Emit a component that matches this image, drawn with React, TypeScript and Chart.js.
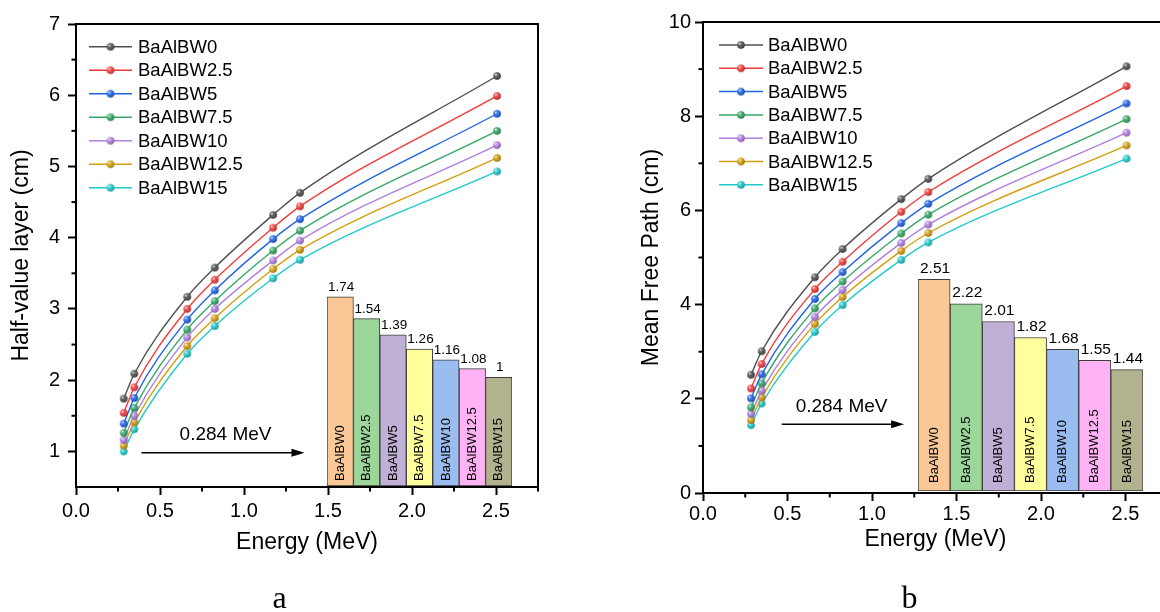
import React, { useEffect, useRef } from 'react';
import { Chart, registerables } from 'chart.js';

Chart.register(...registerables);

// ---------- data ----------
const ENERGY = [0.284, 0.347, 0.662, 0.826, 1.173, 1.333, 2.506];
const SAMPLES = ['BaAlBW0', 'BaAlBW2.5', 'BaAlBW5', 'BaAlBW7.5', 'BaAlBW10', 'BaAlBW12.5', 'BaAlBW15'];

// Half-value layer (cm)
const HVL_W0 = [1.74, 2.09, 3.17, 3.58, 4.32, 4.63, 6.27];
const HVL_W2_5 = [1.54, 1.9, 3.0, 3.41, 4.14, 4.44, 5.99];
const HVL_W5 = [1.39, 1.75, 2.85, 3.26, 3.98, 4.26, 5.74];
const HVL_W7_5 = [1.26, 1.61, 2.71, 3.11, 3.82, 4.1, 5.5];
const HVL_W10 = [1.16, 1.5, 2.6, 3.0, 3.68, 3.96, 5.3];
const HVL_W12_5 = [1.08, 1.41, 2.48, 2.87, 3.56, 3.83, 5.12];
const HVL_W15 = [1.0, 1.31, 2.37, 2.76, 3.43, 3.69, 4.93];

// Mean free path (cm)
const MFP_W0 = [2.51, 3.01, 4.58, 5.18, 6.24, 6.67, 9.06];
const MFP_W2_5 = [2.22, 2.74, 4.33, 4.91, 5.97, 6.39, 8.64];
const MFP_W5 = [2.01, 2.52, 4.12, 4.69, 5.73, 6.14, 8.27];
const MFP_W7_5 = [1.82, 2.33, 3.92, 4.49, 5.51, 5.91, 7.94];
const MFP_W10 = [1.68, 2.17, 3.74, 4.31, 5.31, 5.7, 7.65];
const MFP_W12_5 = [1.55, 2.03, 3.59, 4.16, 5.14, 5.52, 7.38];
const MFP_W15 = [1.44, 1.9, 3.42, 3.99, 4.95, 5.32, 7.1];

// inset values at 0.284 MeV
const INSET_HVL = [1.74, 1.54, 1.39, 1.26, 1.16, 1.08, 1];
const INSET_MFP = [2.51, 2.22, 2.01, 1.82, 1.68, 1.55, 1.44];

// ---------- styles ----------
const LINE_COLORS = ['#505050', '#F23B3B', '#1F63E6', '#35A865', '#B27EE0', '#D49E0E', '#1ECACA'];
const BAR_COLORS = ['#F9C896', '#9DD69B', '#C1B0D6', '#FFFF9C', '#9ABCEF', '#FFB3F5', '#B2B28F'];
const SANS = '"Liberation Sans", Arial, sans-serif';
const SERIF = '"Liberation Serif", "Times New Roman", serif';

function sphere(color: string, r: number): HTMLCanvasElement {
  const s = Math.ceil(r * 2) + 2;
  const c = document.createElement('canvas');
  c.width = s;
  c.height = s;
  const ctx = c.getContext('2d')!;
  const cx = s / 2;
  ctx.beginPath();
  ctx.arc(cx, cx, r, 0, Math.PI * 2);
  ctx.fillStyle = color;
  ctx.fill();
  const g = ctx.createRadialGradient(cx - r * 0.35, cx - r * 0.4, 0, cx - r * 0.2, cx - r * 0.2, r * 1.1);
  g.addColorStop(0, 'rgba(255,255,255,0.85)');
  g.addColorStop(0.45, 'rgba(255,255,255,0.1)');
  g.addColorStop(1, 'rgba(0,0,0,0.25)');
  ctx.beginPath();
  ctx.arc(cx, cx, r, 0, Math.PI * 2);
  ctx.fillStyle = g;
  ctx.fill();
  return c;
}

const framePlugin = {
  id: 'frame',
  afterDraw(chart: any) {
    const { ctx, chartArea: a } = chart;
    ctx.save();
    ctx.strokeStyle = '#000';
    ctx.lineWidth = 2;
    ctx.strokeRect(a.left, a.top, a.right - a.left, a.bottom - a.top);
    ctx.restore();
  },
};

const minorTickPlugin = {
  id: 'minorTicks',
  afterDraw(chart: any, _args: any, opts: any) {
    const { ctx, chartArea: a, scales } = chart;
    ctx.save();
    ctx.strokeStyle = '#000';
    ctx.lineWidth = 2;
    const xs = scales.x;
    for (let v = xs.min + opts.xStep; v < xs.max + 1e-9; v += opts.xStep * 2) {
      const px = xs.getPixelForValue(v);
      ctx.beginPath();
      ctx.moveTo(px, a.bottom);
      ctx.lineTo(px, a.bottom + opts.len);
      ctx.stroke();
    }
    const ys = scales.y;
    for (let v = opts.yStart; v < ys.max + 1e-9; v += opts.yStep * 2) {
      const py = ys.getPixelForValue(v);
      ctx.beginPath();
      ctx.moveTo(a.left, py);
      ctx.lineTo(a.left - opts.len, py);
      ctx.stroke();
    }
    ctx.restore();
  },
};

const legendPlugin = {
  id: 'boxLegend',
  afterDatasetsDraw(chart: any, _args: any, opts: any) {
    const { ctx, chartArea: a } = chart;
    ctx.save();
    chart.data.datasets.forEach((ds: any, i: number) => {
      const y = a.top + opts.top + i * opts.dy;
      const x0 = a.left + opts.lineStart;
      const x1 = a.left + opts.lineEnd;
      ctx.strokeStyle = ds.borderColor;
      ctx.lineWidth = 1.5;
      ctx.beginPath();
      ctx.moveTo(x0, y);
      ctx.lineTo(x1, y);
      ctx.stroke();
      const img = ds.pointStyle as HTMLCanvasElement;
      ctx.drawImage(img, (x0 + x1) / 2 - img.width / 2, y - img.height / 2);
      ctx.fillStyle = '#000';
      ctx.font = `${opts.fontSize}px ${SANS}`;
      ctx.textBaseline = 'middle';
      ctx.textAlign = 'left';
      ctx.fillText(ds.label, a.left + opts.textStart, y + 1);
    });
    ctx.restore();
  },
};

const arrowPlugin = {
  id: 'arrowNote',
  afterDatasetsDraw(chart: any, _args: any, opts: any) {
    const { ctx, scales } = chart;
    const x0 = scales.x.getPixelForValue(opts.x0);
    const x1 = scales.x.getPixelForValue(opts.x1);
    const y = scales.y.getPixelForValue(opts.y);
    ctx.save();
    ctx.strokeStyle = '#000';
    ctx.fillStyle = '#000';
    ctx.lineWidth = 1.5;
    ctx.beginPath();
    ctx.moveTo(x0, y);
    ctx.lineTo(x1 - 10, y);
    ctx.stroke();
    ctx.beginPath();
    ctx.moveTo(x1, y);
    ctx.lineTo(x1 - 13, y - 4);
    ctx.lineTo(x1 - 13, y + 4);
    ctx.closePath();
    ctx.fill();
    ctx.font = `${opts.fontSize}px ${SANS}`;
    ctx.textAlign = 'center';
    ctx.textBaseline = 'middle';
    ctx.fillText(opts.text, scales.x.getPixelForValue(opts.tx), scales.y.getPixelForValue(opts.ty));
    ctx.restore();
  },
};

const barLabelPlugin = {
  id: 'barLabels',
  afterDatasetsDraw(chart: any, _args: any, opts: any) {
    const { ctx } = chart;
    const meta = chart.getDatasetMeta(0);
    const ds = chart.data.datasets[0];
    ctx.save();
    ctx.fillStyle = '#000';
    meta.data.forEach((bar: any, i: number) => {
      ctx.font = `${opts.valueFont}px ${SANS}`;
      ctx.textAlign = 'center';
      ctx.textBaseline = 'bottom';
      ctx.fillText(String(ds.data[i]), bar.x + 1, bar.y - 3);
      ctx.save();
      ctx.translate(bar.x, bar.base - opts.nameGap);
      ctx.rotate(-Math.PI / 2);
      ctx.font = `${opts.nameFont}px ${SANS}`;
      ctx.textAlign = 'left';
      ctx.textBaseline = 'middle';
      ctx.fillText(chart.data.labels[i], 0, 0);
      ctx.restore();
    });
    ctx.restore();
  },
};

type PanelSpec = {
  series: number[][];
  yTitle: string;
  yMin: number;
  yMax: number;
  yStep: number;
  yMinorStart: number;
  xMax: number;
  padding: { left: number; top: number; right: number; bottom: number };
  yWidth: number;
  xHeight: number;
  yTitlePad: number;
  xTitlePad: number;
  xTickPad: number;
  yTickPad: number;
  legend: any;
  arrow: any;
};

function mainConfig(p: PanelSpec): any {
  const tickFont = { family: SANS, size: 20 };
  const titleFont = { family: SANS, size: 23 };
  return {
    type: 'line',
    data: {
      datasets: p.series.map((vals, i) => ({
        label: SAMPLES[i],
        data: ENERGY.map((e, j) => ({ x: e, y: vals[j] })),
        borderColor: LINE_COLORS[i],
        backgroundColor: LINE_COLORS[i],
        borderWidth: 1.4,
        pointStyle: sphere(LINE_COLORS[i], 3.8),
        pointRadius: 4,
        cubicInterpolationMode: 'monotone',
        fill: false,
      })),
    },
    options: {
      responsive: false,
      animation: false,
      events: [],
      layout: { padding: p.padding },
      plugins: {
        legend: { display: false },
        tooltip: { enabled: false },
        minorTicks: { xStep: 0.25, yStep: p.yStep / 2, yStart: p.yMinorStart, len: 4.5 },
        boxLegend: p.legend,
        arrowNote: p.arrow,
      },
      scales: {
        x: {
          type: 'linear',
          min: 0,
          max: p.xMax,
          ticks: {
            stepSize: 0.5,
            includeBounds: false,
            callback: (v: any) => Number(v).toFixed(1),
            font: tickFont,
            color: '#000',
            padding: p.xTickPad,
            maxRotation: 0,
          },
          grid: { display: true, drawOnChartArea: false, drawTicks: true, tickLength: 8, tickColor: '#000', tickWidth: 2 },
          border: { display: true, color: '#000', width: 2 },
          title: { display: true, text: 'Energy (MeV)', font: titleFont, color: '#000', padding: { top: 0, bottom: p.xTitlePad } },
          afterFit: (s: any) => {
            s.height = p.xHeight;
          },
        },
        y: {
          type: 'linear',
          min: p.yMin,
          max: p.yMax,
          ticks: {
            stepSize: p.yStep,
            includeBounds: false,
            font: tickFont,
            color: '#000',
            padding: p.yTickPad,
          },
          grid: { display: true, drawOnChartArea: false, drawTicks: true, tickLength: 8, tickColor: '#000', tickWidth: 2 },
          border: { display: true, color: '#000', width: 2 },
          title: { display: true, text: p.yTitle, font: titleFont, color: '#000', padding: { top: p.yTitlePad, bottom: 0 } },
          afterFit: (s: any) => {
            s.width = p.yWidth;
          },
        },
      },
    },
    plugins: [minorTickPlugin, framePlugin, legendPlugin, arrowPlugin],
  };
}

function insetConfig(values: number[], yMax: number, padTop: number, valueFont: number, nameFont: number, nameGap: number): any {
  return {
    type: 'bar',
    data: {
      labels: SAMPLES,
      datasets: [
        {
          data: values,
          backgroundColor: BAR_COLORS,
          borderColor: '#3c3c3c',
          borderWidth: 1,
          borderSkipped: false,
          barPercentage: 1,
          categoryPercentage: 1,
        },
      ],
    },
    options: {
      responsive: false,
      animation: false,
      events: [],
      layout: { padding: { top: padTop, left: 0, right: 0, bottom: 0 } },
      plugins: {
        legend: { display: false },
        tooltip: { enabled: false },
        barLabels: { valueFont, nameFont, nameGap },
      },
      scales: {
        x: { display: false },
        y: { display: false, min: 0, max: yMax },
      },
    },
    plugins: [barLabelPlugin],
  };
}

function ChartCanvas({ config, left, top, width, height }: { config: () => any; left: number; top: number; width: number; height: number }) {
  const ref = useRef<HTMLCanvasElement>(null);
  useEffect(() => {
    const chart = new Chart(ref.current!, config());
    return () => chart.destroy();
  }, []);
  return (
    <canvas
      ref={ref}
      width={width}
      height={height}
      style={{ position: 'absolute', left, top, width, height }}
    />
  );
}

const panelA: PanelSpec = {
  series: [HVL_W0, HVL_W2_5, HVL_W5, HVL_W7_5, HVL_W10, HVL_W12_5, HVL_W15],
  yTitle: 'Half-value layer (cm)',
  yMin: 0.5,
  yMax: 7,
  yStep: 1,
  yMinorStart: 1.5,
  xMax: 2.75,
  padding: { left: 0, top: 24, right: 42, bottom: 0 },
  yWidth: 76,
  xHeight: 125,
  yTitlePad: 8,
  xTitlePad: 56,
  xTickPad: 4,
  yTickPad: 8,
  legend: { top: 22.7, dy: 23.5, lineStart: 13, lineEnd: 56, textStart: 62, fontSize: 18.5 },
  arrow: { x0: 0.39, x1: 1.36, y: 0.98, text: '0.284 MeV', tx: 0.89, ty: 1.23, fontSize: 19 },
};

const panelB: PanelSpec = {
  series: [MFP_W0, MFP_W2_5, MFP_W5, MFP_W7_5, MFP_W10, MFP_W12_5, MFP_W15],
  yTitle: 'Mean Free Path (cm)',
  yMin: 0,
  yMax: 10,
  yStep: 2,
  yMinorStart: 1,
  xMax: 2.75,
  padding: { left: 0, top: 22, right: 12.25, bottom: 0 },
  yWidth: 123,
  xHeight: 119,
  yTitlePad: 58,
  xTitlePad: 59,
  xTickPad: 1,
  yTickPad: 4,
  legend: { top: 23, dy: 23.3, lineStart: 16, lineEnd: 60, textStart: 65, fontSize: 18.5 },
  arrow: { x0: 0.466, x1: 1.19, y: 1.46, text: '0.284 MeV', tx: 0.82, ty: 1.83, fontSize: 19 },
};

export default function App() {
  return (
    <div
      style={{
        position: 'fixed',
        left: 0,
        top: 0,
        width: 1160,
        height: 612,
        overflow: 'hidden',
        background: '#fff',
      }}
    >
      <ChartCanvas config={() => mainConfig(panelA)} left={0} top={0} width={580} height={612} />
      <ChartCanvas config={() => mainConfig(panelB)} left={580} top={0} width={600} height={612} />
      <ChartCanvas config={() => insetConfig(INSET_HVL, 2.0, 22.6, 13.5, 13, 5)} left={327} top={246} width={185} height={240} />
      <ChartCanvas config={() => insetConfig(INSET_MFP, 3.0, 23, 15.5, 13, 8)} left={918} top={215} width={225} height={276} />
      <div style={{ position: 'absolute', left: 279.5, top: 581, transform: 'translateX(-50%)', fontFamily: SERIF, fontSize: 32, lineHeight: '32px', color: '#000' }}>a</div>
      <div style={{ position: 'absolute', left: 909.5, top: 581, transform: 'translateX(-50%)', fontFamily: SERIF, fontSize: 32, lineHeight: '32px', color: '#000' }}>b</div>
    </div>
  );
}
